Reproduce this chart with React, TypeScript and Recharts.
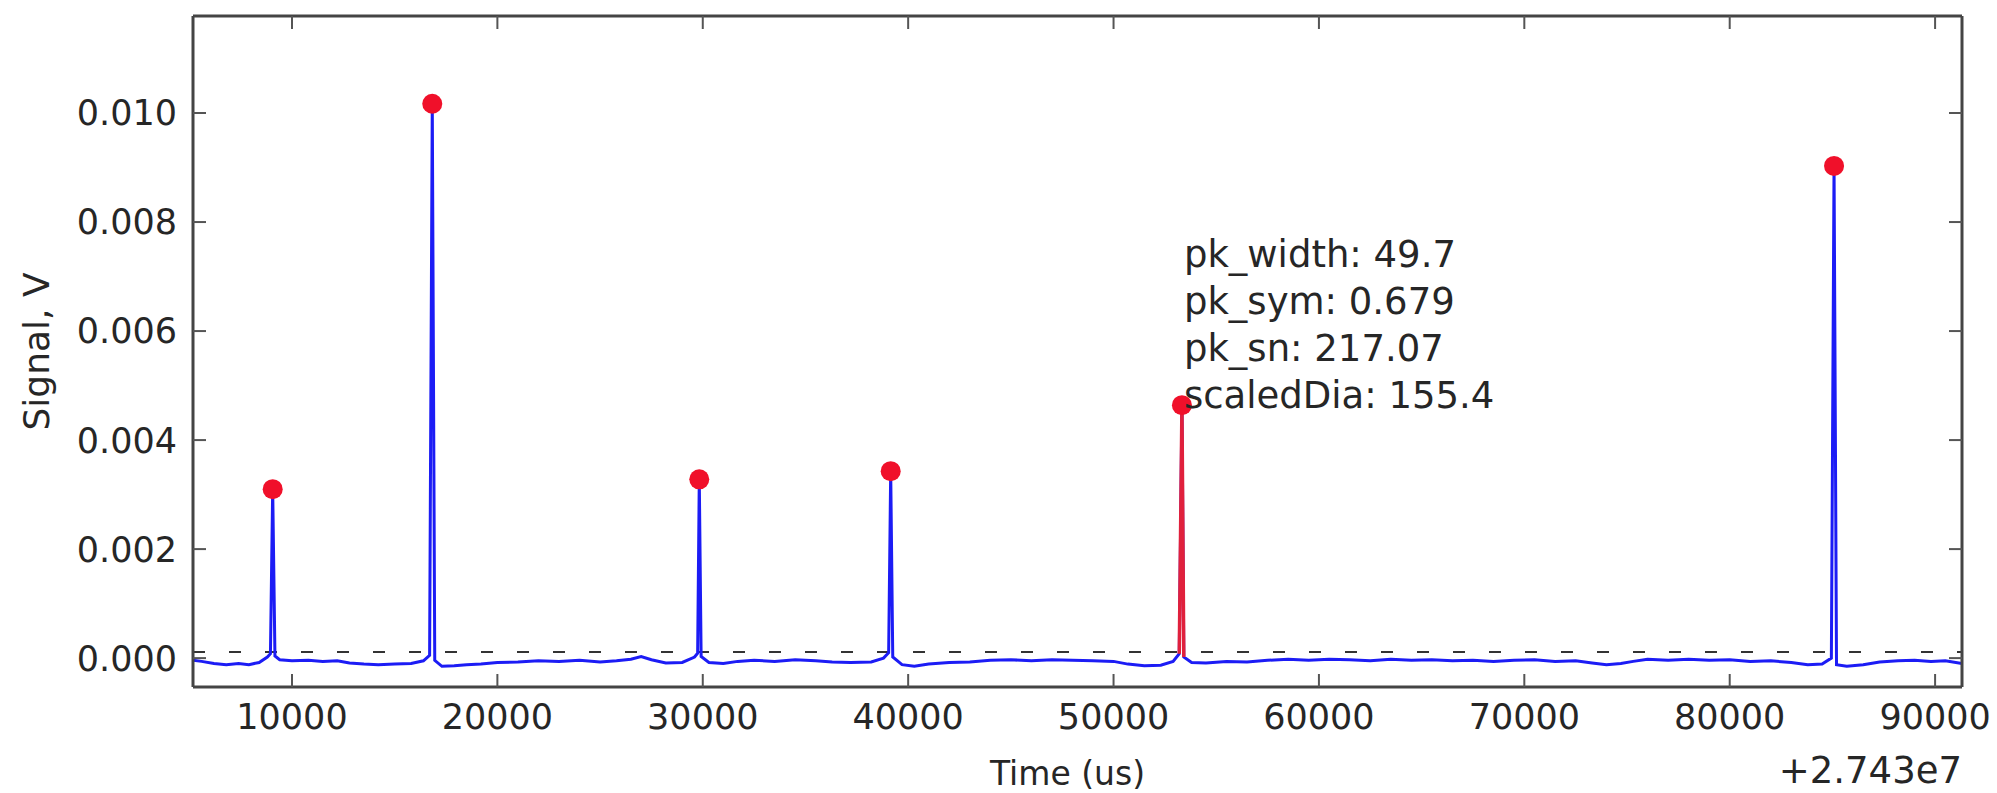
import React from 'react';
import {
  ComposedChart,
  Line,
  XAxis,
  YAxis,
  ReferenceLine,
  ReferenceDot,
  Label,
} from 'recharts';

// Time offsets (us, relative to +2.743e7) of the blue trace
const traceTime = [
  5180, 5600, 6200, 6800, 7400, 7900, 8400, 8800, 8950, 9060, 9170, 9400, 10000, 10800, 11500,
  12200, 12800, 13500, 14200, 15000, 15800, 16400, 16700, 16830, 16950, 17300, 17900, 18500,
  19200, 20000, 21000, 22000, 23000, 24000, 25000, 25800, 26500, 27000, 27500, 28200, 29000,
  29600, 29750, 29830, 29920, 30300, 31000, 31700, 32500, 33500, 34500, 35500, 36300, 37200,
  38200, 38800, 39050, 39150, 39250, 39700, 40300, 41000, 42000, 43000, 44000, 45000, 46000,
  47000, 48000, 49000, 50000, 50700, 51500, 52300, 52900, 53200, 53330, 53420, 53800, 54500,
  55500, 56500, 57500, 58500, 59500, 60500, 61500, 62500, 63500, 64500, 65500, 66500, 67500,
  68500, 69500, 70500, 71500, 72500, 73300, 74000, 74700, 75300, 76000, 77000, 78000, 79000,
  80000, 81000, 82000, 83000, 83800, 84500, 84950, 85080, 85200, 85700, 86500, 87300, 88200,
  89000, 89800, 90500, 91310,
];

// Signal (V) of the blue trace
const traceSignal = [
  -0.00004, -0.00006, -0.0001, -0.00012, -0.0001, -0.00012, -0.00008, 0.00002, 0.00008, 0.0031,
  0.00004, -0.00003, -0.00005, -0.00004, -0.00006, -0.00005, -0.00009, -0.00011, -0.00012,
  -0.00011, -0.0001, -0.00005, 0.00005, 0.01017, -0.00004, -0.00015, -0.00014, -0.00012,
  -0.00011, -0.00008, -0.00007, -0.00005, -0.00006, -0.00004, -0.00007, -0.00005, -0.00002,
  0.00003, -0.00003, -0.00009, -0.00008, 0.00002, 0.00009, 0.00328, 0.00003, -0.00008, -0.0001,
  -0.00006, -0.00004, -0.00006, -0.00003, -0.00005, -0.00007, -0.00008, -0.00007, 0.0, 0.0001,
  0.00343, 0.00002, -0.00012, -0.00015, -0.00011, -0.00008, -0.00007, -0.00004, -0.00003,
  -0.00005, -0.00003, -0.00004, -0.00005, -0.00006, -0.00011, -0.00014, -0.00013, -0.00006,
  0.00008, 0.00464, 0.00002, -0.00008, -0.00009, -0.00006, -0.00007, -0.00004, -0.00002,
  -0.00004, -0.00002, -0.00003, -0.00005, -0.00002, -0.00004, -0.00003, -0.00005, -0.00004,
  -0.00006, -0.00004, -0.00003, -0.00006, -0.00005, -0.00009, -0.00012, -0.0001, -0.00006,
  -0.00002, -0.00004, -0.00002, -0.00004, -0.00003, -0.00006, -0.00005, -0.00008, -0.00012,
  -0.00011, 0.0, 0.00903, -0.00012, -0.00015, -0.00012, -0.00007, -0.00005, -0.00004,
  -0.00006, -0.00005, -0.0001,
];

// Detected peaks (red markers)
const peakTime = [9060, 16830, 29830, 39150, 53330, 85080];
const peakSignal = [0.0031, 0.01017, 0.00328, 0.00343, 0.00464, 0.00903];

// Highlighted (selected) peak segment in red
const selTime = [53200, 53330, 53420];
const selSignal = [0.00008, 0.00464, 0.00002];

const threshold = 0.00011;

const xTicks = [10000, 20000, 30000, 40000, 50000, 60000, 70000, 80000, 90000];
const yTicks = [0, 0.002, 0.004, 0.006, 0.008, 0.01];
const xDomain = [5180, 91310];
const yDomain = [-0.00053, 0.01178];

const annotationLines = ['pk_width: 49.7', 'pk_sym: 0.679', 'pk_sn: 217.07', 'scaledDia: 155.4'];
const annotationX = 53330;
const annotationY = 0.0074;

const xLabel = 'Time (us)';
const xOffsetLabel = '+2.743e7';
const yLabel = 'Signal, V';

const traceData = traceTime.map((t, i) => ({ t, v: traceSignal[i] }));
const peakData = peakTime.map((t, i) => ({ t, v: peakSignal[i] }));
const selData = selTime.map((t, i) => ({ t, v: selSignal[i] }));

const FONT = '"DejaVu Sans", "Liberation Sans", sans-serif';
const TEXT = '#262626';
const AXIS = '#444444';
const FS = 35;

const axisLineStyle = { stroke: AXIS, strokeWidth: 3 };
const tickLineStyle = { stroke: '#555555', strokeWidth: 2 };
const tickStyle = { fill: TEXT, fontSize: FS, fontFamily: FONT };

export default function App() {
  return (
    <div style={{ position: 'absolute', left: 0, top: 0, width: 1997, height: 793, background: '#ffffff' }}>
      <ComposedChart
        width={1997}
        height={793}
        margin={{ top: 15, right: 34, bottom: 0, left: 0 }}
        style={{ fontFamily: FONT }}
      >
        <XAxis
          xAxisId="b"
          type="number"
          dataKey="t"
          domain={xDomain}
          ticks={xTicks}
          allowDataOverflow
          orientation="bottom"
          height={106}
          tickSize={-13}
          tickMargin={30}
          axisLine={axisLineStyle}
          tickLine={tickLineStyle}
          tick={tickStyle}
          interval={0}
        >
          <Label
            content={(p: any) => {
              const vb = p.viewBox;
              return (
                <g>
                  <text
                    x={vb.x + vb.width / 2 - 10}
                    y={773}
                    textAnchor="middle"
                    dominantBaseline="central"
                    fontSize={33}
                    fontFamily={FONT}
                    fill={TEXT}
                  >
                    {xLabel}
                  </text>
                  <text
                    x={vb.x + vb.width}
                    y={770}
                    textAnchor="end"
                    dominantBaseline="central"
                    fontSize={37}
                    fontFamily={FONT}
                    fill={TEXT}
                  >
                    {xOffsetLabel}
                  </text>
                </g>
              );
            }}
          />
        </XAxis>
        <XAxis
          xAxisId="t"
          type="number"
          dataKey="t"
          domain={xDomain}
          ticks={xTicks}
          allowDataOverflow
          orientation="top"
          height={1}
          tickSize={-13}
          tickMargin={0}
          tickFormatter={() => ''}
          axisLine={axisLineStyle}
          tickLine={tickLineStyle}
          tick={{ fontSize: 1 }}
          interval={0}
        />
        <YAxis
          yAxisId="l"
          type="number"
          domain={yDomain}
          ticks={yTicks}
          allowDataOverflow
          orientation="left"
          width={193}
          tickSize={-13}
          tickMargin={29}
          axisLine={axisLineStyle}
          tickLine={tickLineStyle}
          tick={tickStyle}
          tickFormatter={(v: number) => v.toFixed(3)}
          interval={0}
        >
          <Label
            content={(p: any) => {
              const vb = p.viewBox;
              const cy = vb.y + vb.height / 2;
              return (
                <text
                  x={36}
                  y={cy}
                  transform={`rotate(-90 36 ${cy})`}
                  textAnchor="middle"
                  dominantBaseline="central"
                  fontSize={36}
                  fontFamily={FONT}
                  fill={TEXT}
                >
                  {yLabel}
                </text>
              );
            }}
          />
        </YAxis>
        <YAxis
          yAxisId="r"
          type="number"
          domain={yDomain}
          ticks={yTicks}
          allowDataOverflow
          orientation="right"
          width={1}
          tickSize={-13}
          tickMargin={0}
          tickFormatter={() => ''}
          axisLine={axisLineStyle}
          tickLine={tickLineStyle}
          tick={{ fontSize: 1 }}
          interval={0}
        />
        <Line
          xAxisId="t"
          yAxisId="r"
          data={traceData}
          dataKey="v"
          stroke="none"
          dot={false}
          activeDot={false}
          isAnimationActive={false}
        />
        <ReferenceLine
          xAxisId="b"
          yAxisId="l"
          y={threshold}
          stroke="#333333"
          strokeWidth={2}
          strokeDasharray="12 24"
        />
        <Line
          xAxisId="b"
          yAxisId="l"
          data={traceData}
          dataKey="v"
          type="linear"
          stroke="#1c1cf5"
          strokeWidth={3}
          dot={false}
          isAnimationActive={false}
        />
        <Line
          xAxisId="b"
          yAxisId="l"
          data={selData}
          dataKey="v"
          type="linear"
          stroke="#e0203c"
          strokeWidth={3.5}
          dot={false}
          isAnimationActive={false}
        />
        <Line
          xAxisId="b"
          yAxisId="l"
          data={peakData}
          dataKey="v"
          stroke="none"
          dot={{ r: 10, fill: '#f0102a', stroke: 'none' }}
          activeDot={false}
          isAnimationActive={false}
        />
        <ReferenceDot
          xAxisId="b"
          yAxisId="l"
          x={annotationX}
          y={annotationY}
          r={0}
          ifOverflow="visible"
          shape={(p: any) => (
            <g>
              {annotationLines.map((s, i) => (
                <text
                  key={s}
                  x={p.cx + 2}
                  y={p.cy + i * 47}
                  dominantBaseline="central"
                  fontSize={37}
                  fontFamily={FONT}
                  fill={TEXT}
                >
                  {s}
                </text>
              ))}
            </g>
          )}
        />
      </ComposedChart>
    </div>
  );
}
